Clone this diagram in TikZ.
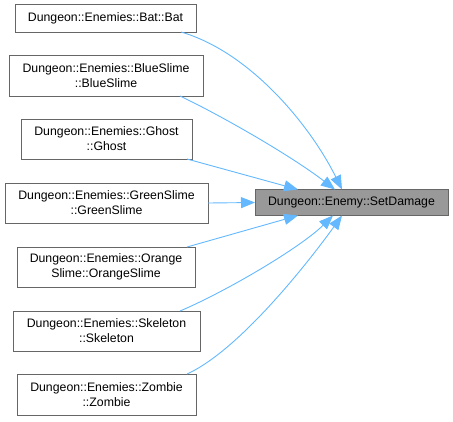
\documentclass[tikz,border=0pt]{standalone}
\usepackage{fontspec}
\setmainfont{Liberation Sans}
\usetikzlibrary{arrows.meta}
\definecolor{edgeblue}{HTML}{63B8FF}
\definecolor{boxborder}{HTML}{666666}
\definecolor{rootfill}{HTML}{999999}
\tikzset{
  fn/.style={draw=boxborder, line width=0.8pt, fill=white, inner sep=0pt, outer sep=0pt,
    align=center, font=\fontsize{12.3}{15}\selectfont},
  rootfn/.style={fn, fill=rootfill},
  edge/.style={draw=edgeblue, line width=0.9pt, -{Triangle[length=14pt,width=11pt]}}
}
\begin{document}
\begin{tikzpicture}[x=1pt,y=-1pt]
\useasboundingbox (0,0) rectangle (453,421);
\node[rootfn, minimum width=193pt, minimum height=26pt] (sd) at (351.5,202.5) {Dungeon::Enemy::SetDamage};
\node[fn, minimum width=181pt, minimum height=28pt] (bat) at (105.5,18) {Dungeon::Enemies::Bat::Bat};
\node[fn, minimum width=194pt, minimum height=41pt] (bs) at (106,75.5) {Dungeon::Enemies::BlueSlime\\::BlueSlime};
\node[fn, minimum width=171pt, minimum height=40pt] (gh) at (106.5,139) {Dungeon::Enemies::Ghost\\::Ghost};
\node[fn, minimum width=203pt, minimum height=40pt] (gs) at (106.5,203) {Dungeon::Enemies::GreenSlime\\::GreenSlime};
\node[fn, minimum width=178pt, minimum height=40pt] (os) at (106,267) {Dungeon::Enemies::Orange\\Slime::OrangeSlime};
\node[fn, minimum width=187pt, minimum height=40pt] (sk) at (106.5,331) {Dungeon::Enemies::Skeleton\\::Skeleton};
\node[fn, minimum width=179pt, minimum height=41pt] (zo) at (106.5,394.5) {Dungeon::Enemies::Zombie\\::Zombie};

\draw[edge] ([xshift=-15pt]bat.south east) .. controls (250,52) and (310,125) .. ([xshift=-9.5pt]sd.north);
\draw[edge] ([xshift=-23pt]bs.south east) .. controls (220,115) and (290,155) .. ([xshift=-16.5pt]sd.north);
\draw[edge] ([xshift=-5pt]gh.south east) -- ([xshift=-53.5pt]sd.north);
\draw[edge] (gs.east) -- (sd.west);
\draw[edge] ([xshift=-8pt]os.north east) -- ([xshift=-53.5pt]sd.south);
\draw[edge] ([xshift=-20pt]sk.north east) .. controls (225,292) and (300,248) .. ([xshift=-18.5pt]sd.south);
\draw[edge] ([xshift=-9pt]zo.north east) .. controls (240,350) and (310,260) .. ([xshift=-9.5pt]sd.south);
\end{tikzpicture}
\end{document}
